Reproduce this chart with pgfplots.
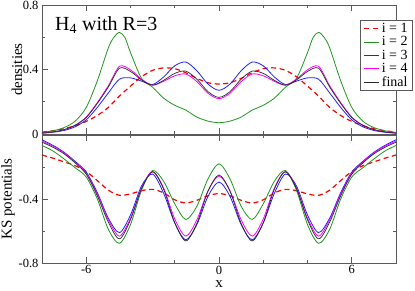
\documentclass[border=0pt]{standalone}
\usepackage{fontspec}
\setmainfont{Liberation Serif}
\usepackage{pgfplots}
\pgfplotsset{compat=1.18}
\definecolor{cred}{RGB}{255,0,0}
\definecolor{cgreen}{RGB}{30,150,30}
\definecolor{cblue}{RGB}{30,30,255}
\definecolor{cmag}{RGB}{255,0,255}
\definecolor{cblack}{RGB}{40,40,40}
\definecolor{cframe}{RGB}{90,90,90}
\pgfplotsset{
  common/.style={
    scale only axis, width=354pt, xmin=-8, xmax=8,
    xtick={-6,0,6}, minor xtick={-4,-2,2,4},
    tick align=inside, major tick length=6pt, minor tick length=3pt,
    axis line style={cframe, line width=0.7pt},
    every tick/.style={cframe, line width=0.6pt},
    /pgf/number format/assume math mode=true,
    ticklabel style={font=\fontsize{12.5}{13}\selectfont},
    xticklabel style={inner ysep=1pt, yshift=-1.5pt},
    label style={font=\fontsize{15}{15}\selectfont},
    clip=true,
  },
  r/.style={cred, line width=1.2pt, dash pattern=on 5pt off 3.5pt, smooth},
  g/.style={cgreen, line width=0.8pt, smooth},
  b/.style={cblue, line width=0.8pt, smooth},
  m/.style={cmag, line width=0.8pt, smooth},
  k/.style={cblack, line width=0.7pt, smooth},
}
\begin{document}
\begin{tikzpicture}
\begin{axis}[common, name=top, at={(0,0)}, anchor=south west, height=129pt,
  ymin=0, ymax=0.8, ytick={0,0.4,0.8}, minor ytick={0.2,0.6},
  xticklabels={},
  ylabel={densities},
  ylabel style={at={(axis description cs:-0.0706,0.5)}, anchor=center},
  legend cell align=left,
  legend image code/.code={\draw[#1] (0pt,0pt) -- (15pt,0pt);},
  legend style={at={(1.048,0.884)}, anchor=north east, draw=cframe, line width=0.7pt,
    font=\fontsize{14}{14}\selectfont, inner xsep=3pt, inner ysep=1pt, row sep=-1.5pt},
]
\addplot[r] coordinates {(-8,0.012)(-7.5,0.020)(-7,0.033)(-6.5,0.052)(-6,0.078)(-5.5,0.115)(-5,0.165)(-4.5,0.235)(-4,0.297)(-3.5,0.355)(-3,0.395)(-2.5,0.410)(-2,0.405)(-1.5,0.380)(-1,0.345)(-0.5,0.318)(0,0.310)(0.5,0.318)(1,0.345)(1.5,0.380)(2,0.405)(2.5,0.410)(3,0.395)(3.5,0.355)(4,0.297)(4.5,0.235)(5,0.165)(5.5,0.115)(6,0.078)(6.5,0.052)(7,0.033)(7.5,0.020)(8,0.012)};
\addlegendentry{i = 1}
\addplot[g] coordinates {(-8,0.010)(-7.5,0.020)(-7,0.040)(-6.5,0.080)(-6,0.165)(-5.5,0.330)(-5,0.535)(-4.75,0.600)(-4.5,0.630)(-4.25,0.598)(-4,0.505)(-3.5,0.345)(-3,0.290)(-2.5,0.222)(-2,0.178)(-1.5,0.148)(-1,0.105)(-0.5,0.080)(0,0.070)(0.5,0.080)(1,0.105)(1.5,0.148)(2,0.178)(2.5,0.222)(3,0.290)(3.5,0.345)(4,0.505)(4.25,0.598)(4.5,0.630)(4.75,0.600)(5,0.535)(5.5,0.330)(6,0.165)(6.5,0.080)(7,0.040)(7.5,0.020)(8,0.010)};
\addlegendentry{i = 2}
\addplot[b] coordinates {(-8,0.005)(-7.5,0.011)(-7,0.022)(-6.5,0.045)(-6,0.088)(-5.5,0.165)(-5,0.255)(-4.5,0.340)(-4,0.348)(-3.5,0.328)(-3,0.307)(-2.5,0.354)(-2,0.423)(-1.5,0.446)(-1,0.392)(-0.5,0.310)(0,0.271)(0.5,0.310)(1,0.392)(1.5,0.446)(2,0.423)(2.5,0.354)(3,0.307)(3.5,0.328)(4,0.348)(4.5,0.340)(5,0.255)(5.5,0.165)(6,0.088)(6.5,0.045)(7,0.022)(7.5,0.011)(8,0.005)};
\addlegendentry{i = 3}
\addplot[m] coordinates {(-8,0.006)(-7.5,0.013)(-7,0.027)(-6.5,0.055)(-6,0.105)(-5.5,0.195)(-5,0.300)(-4.5,0.420)(-4,0.398)(-3.5,0.340)(-3,0.303)(-2.5,0.327)(-2,0.361)(-1.5,0.372)(-1,0.325)(-0.5,0.253)(0,0.219)(0.5,0.253)(1,0.325)(1.5,0.372)(2,0.361)(2.5,0.327)(3,0.303)(3.5,0.340)(4,0.398)(4.5,0.420)(5,0.300)(5.5,0.195)(6,0.105)(6.5,0.055)(7,0.027)(7.5,0.013)(8,0.006)};
\addlegendentry{i = 4}
\addplot[k] coordinates {(-8,0.006)(-7.5,0.013)(-7,0.027)(-6.5,0.054)(-6,0.102)(-5.5,0.190)(-5,0.292)(-4.5,0.408)(-4,0.388)(-3.5,0.335)(-3,0.303)(-2.5,0.333)(-2,0.376)(-1.5,0.390)(-1,0.340)(-0.5,0.263)(0,0.227)(0.5,0.263)(1,0.340)(1.5,0.390)(2,0.376)(2.5,0.333)(3,0.303)(3.5,0.335)(4,0.388)(4.5,0.408)(5,0.292)(5.5,0.190)(6,0.102)(6.5,0.054)(7,0.027)(7.5,0.013)(8,0.006)};
\addlegendentry{final}
\node[anchor=base west, inner sep=0pt, font=\fontsize{20}{20}\selectfont] at (rel axis cs:0.0367,0.806) {H\textsubscript{4} with R=3};
\end{axis}
\begin{axis}[common, name=bot, at={(top.south west)}, anchor=north west, yshift=-1pt, height=128pt,
  ymin=-0.8, ymax=0, ytick={-0.8,-0.4,0}, yticklabels={-0.8,-0.4,{}}, minor ytick={-0.6,-0.2},
  xticklabels={-6,0,6},
  ylabel={KS potentials},
  ylabel style={at={(axis description cs:-0.096,0.5)}, anchor=center},
  xlabel={x},
  xlabel style={at={(axis description cs:0.5,0)}, anchor=base, inner sep=0pt, yshift=-25pt},
]
\addplot[r] coordinates {(-8,-0.125)(-7.5,-0.145)(-7,-0.168)(-6.5,-0.192)(-6,-0.228)(-5.5,-0.285)(-5,-0.345)(-4.5,-0.377)(-4,-0.368)(-3.5,-0.348)(-3,-0.340)(-2.5,-0.362)(-2,-0.405)(-1.5,-0.425)(-1,-0.408)(-0.5,-0.380)(0,-0.366)(0.5,-0.380)(1,-0.408)(1.5,-0.425)(2,-0.405)(2.5,-0.362)(3,-0.340)(3.5,-0.348)(4,-0.368)(4.5,-0.377)(5,-0.345)(5.5,-0.285)(6,-0.228)(6.5,-0.192)(7,-0.168)(7.5,-0.145)(8,-0.125)};
\addplot[g] coordinates {(-8,-0.065)(-7.5,-0.100)(-7,-0.150)(-6.5,-0.205)(-6,-0.263)(-5.5,-0.400)(-5,-0.590)(-4.5,-0.677)(-4,-0.560)(-3.5,-0.345)(-3,-0.222)(-2.5,-0.290)(-2,-0.430)(-1.5,-0.528)(-1,-0.445)(-0.5,-0.275)(0,-0.180)(0.5,-0.275)(1,-0.445)(1.5,-0.528)(2,-0.430)(2.5,-0.290)(3,-0.222)(3.5,-0.345)(4,-0.560)(4.5,-0.677)(5,-0.590)(5.5,-0.400)(6,-0.263)(6.5,-0.205)(7,-0.150)(7.5,-0.100)(8,-0.065)};
\addplot[b] coordinates {(-8,-0.030)(-7.5,-0.065)(-7,-0.108)(-6.5,-0.165)(-6,-0.232)(-5.5,-0.360)(-5,-0.520)(-4.5,-0.610)(-4,-0.500)(-3.5,-0.318)(-3,-0.244)(-2.5,-0.365)(-2,-0.550)(-1.5,-0.655)(-1,-0.560)(-0.5,-0.384)(0,-0.294)(0.5,-0.384)(1,-0.560)(1.5,-0.655)(2,-0.550)(2.5,-0.365)(3,-0.244)(3.5,-0.318)(4,-0.500)(4.5,-0.610)(5,-0.520)(5.5,-0.360)(6,-0.232)(6.5,-0.165)(7,-0.108)(7.5,-0.065)(8,-0.030)};
\addplot[m] coordinates {(-8,-0.038)(-7.5,-0.070)(-7,-0.112)(-6.5,-0.170)(-6,-0.240)(-5.5,-0.370)(-5,-0.530)(-4.5,-0.632)(-4,-0.520)(-3.5,-0.330)(-3,-0.228)(-2.5,-0.332)(-2,-0.525)(-1.5,-0.632)(-1,-0.530)(-0.5,-0.350)(0,-0.257)(0.5,-0.350)(1,-0.530)(1.5,-0.632)(2,-0.525)(2.5,-0.332)(3,-0.228)(3.5,-0.330)(4,-0.520)(4.5,-0.632)(5,-0.530)(5.5,-0.370)(6,-0.240)(6.5,-0.170)(7,-0.112)(7.5,-0.070)(8,-0.038)};
\addplot[k] coordinates {(-8,-0.045)(-7.5,-0.077)(-7,-0.118)(-6.5,-0.175)(-6,-0.245)(-5.5,-0.380)(-5,-0.545)(-4.5,-0.649)(-4,-0.530)(-3.5,-0.335)(-3,-0.230)(-2.5,-0.340)(-2,-0.548)(-1.5,-0.662)(-1,-0.552)(-0.5,-0.352)(0,-0.250)(0.5,-0.352)(1,-0.552)(1.5,-0.662)(2,-0.548)(2.5,-0.340)(3,-0.230)(3.5,-0.335)(4,-0.530)(4.5,-0.649)(5,-0.545)(5.5,-0.380)(6,-0.245)(6.5,-0.175)(7,-0.118)(7.5,-0.077)(8,-0.045)};
\end{axis}
\pgfresetboundingbox
\useasboundingbox (-42pt,134pt) rectangle (373pt,-156pt);
\end{tikzpicture}
\end{document}
